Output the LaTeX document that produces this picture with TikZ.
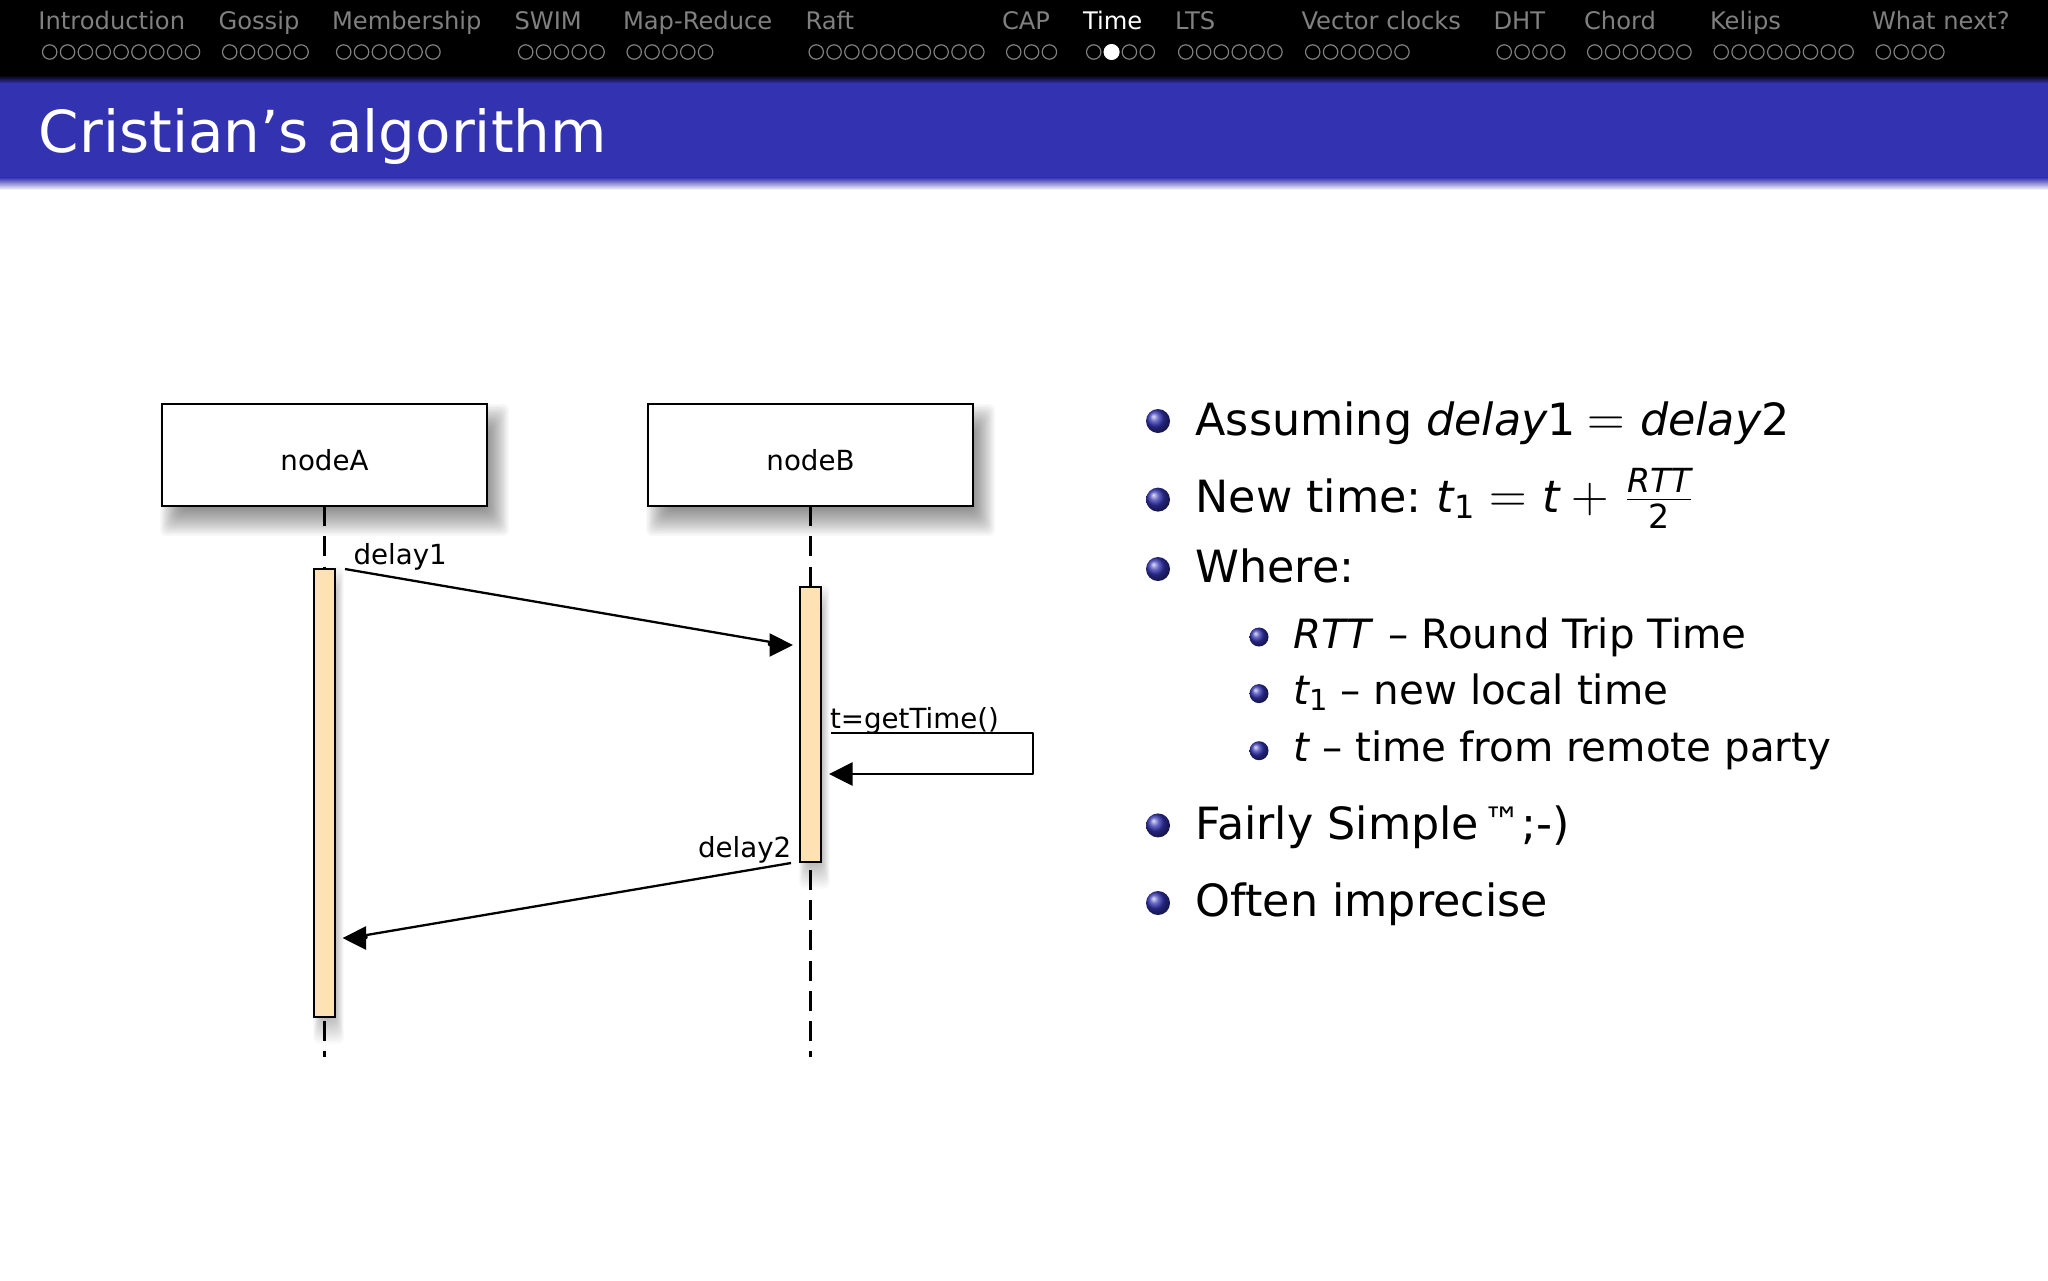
\RequirePackage{fix-cm}
\documentclass[tikz,border=0pt]{standalone}
\usepackage{fontspec}
\setmainfont{DejaVu Sans}
\usetikzlibrary{arrows.meta,positioning}
\definecolor{barblue}{rgb}{0.2,0.2,0.7}
\definecolor{navgray}{gray}{0.5}
\definecolor{barfill}{HTML}{FEE2B4}
\newcommand{\fsz}[1]{\fontsize{#1}{#1}\selectfont}
\newcommand{\softshadow}[9]{%
  \foreach \k in {1,...,20}{%
    \pgfmathsetmacro\ef{1-2*(\k-1)/19}
    \fill[black,fill opacity=#9,rounded corners=3pt]
      ({#1+#5-#7*\ef},{#2+#6-#8*\ef}) rectangle ({#3+#5+#7*\ef},{#4+#6+#8*\ef});
  }}
\newcommand{\fracrtt}{%
  \rlap{\raisebox{9.75pt}{\makebox[32pt]{\fsz{16.6}\itshape RTT}}}%
  \rlap{\raisebox{5.8pt}{\rule{32pt}{0.6pt}}}%
  \raisebox{-8pt}{\makebox[32pt]{\fsz{16.6}2}}}
\newcommand{\meq}[2]{\hspace{#1}{\fsz{26}$=$}\hspace{#2}}
\newcommand{\mplus}{\hspace{5.7pt}{\fsz{26}$+$}\hspace{9.2pt}}
\tikzset{
  txt/.style={anchor=base west,inner sep=0pt,outer sep=0pt,text=black},
  navtxt/.style={txt,font=\fsz{12.1},text=navgray},
  lvlone/.style={txt,font=\fsz{22.2}},
  lvltwo/.style={txt,font=\fsz{20.2}},
  msg/.style={txt,font=\fsz{13.85}},
  actor/.style={draw=black,line width=1.15pt,fill=white,anchor=north west,inner sep=0pt,outer sep=0pt,
    minimum width=162.5pt,minimum height=51pt,font=\fsz{13.85}},
  activation/.style={draw=black,line width=1.15pt,fill=barfill,anchor=north west,inner sep=0pt,outer sep=0pt,
    minimum width=10.5pt},
  life/.style={line width=1.05pt,dash pattern=on 10pt off 5.15pt},
  call/.style={line width=1.15pt,line join=round,-{Triangle[length=11.75pt,width=11.5pt]}},
  ball1/.style={circle,inner sep=0pt,minimum size=12pt,shading=ball,ball color=barblue},
  ball2/.style={circle,inner sep=0pt,minimum size=9.5pt,shading=ball,ball color=barblue},
  navdot/.style={draw=navgray,line width=0.6pt},
}
\begin{document}
\begin{tikzpicture}[x=0.5pt,y=-0.5pt]
\useasboundingbox (0,0) rectangle (2048,1280);
\fill[white] (0,0) rectangle (2048,1280);
% header bands
\fill[black] (0,0) rectangle (2048,75);
\shade[top color=black,bottom color=barblue] (0,75) rectangle (2048,83.5);
\fill[barblue] (0,83) rectangle (2048,178);
\shade[top color=barblue,bottom color=white] (0,177.5) rectangle (2048,190);
% navigation
\foreach \n/\t/\x in {1/Introduction/38.5,2/Gossip/218.5,3/Membership/332,4/SWIM/514.5,5/Map-Reduce/623,6/Raft/805.5,7/CAP/1002,9/LTS/1175,10/Vector clocks/1301.5,11/DHT/1493.5,12/Chord/1584,13/Kelips/1710,14/What next?/1872}{
  \node[navtxt] (nav\n) at (\x,29.5) {\t};
}
\node[navtxt,text=white] (nav8) at (1083,29.5) {Time};
\foreach \sx/\c in {42/9,222/5,336/6,518/5,626.5/5,808.5/10,1006/3,1178/6,1305/6,1496.5/4,1587/6,1713.5/8,1875.6/4,1086/4}{
  \foreach \i in {1,...,\c}{
    \draw[navdot] ({\sx+7.7+17.85*(\i-1)},52) circle (3.6pt);
  }
}
\fill[white] (1086+7.7+17.85,52) circle (4pt);
% title
\node[txt,text=white,font=\fsz{28.95}] (title) at (39,152) {Cristian’s algorithm};
% shadows
\softshadow{162}{404}{487}{506}{10}{15}{12}{15}{.027}
\softshadow{648}{404}{973}{506}{10}{15}{12}{15}{.027}
\softshadow{314}{569}{335}{1017}{4}{12}{5}{15}{.017}
\softshadow{800}{587}{821}{862}{4}{12}{5}{15}{.017}
% actors
\node[actor] (nodeA) at (162,404) {\raisebox{-7.5pt}[0pt][0pt]{nodeA}};
\node[actor] (nodeB) at (648,404) {\raisebox{-7.5pt}[0pt][0pt]{nodeB}};
\coordinate (endA) at (324.5,1057);
\coordinate (endB) at (810.5,1057);
\draw[life] (nodeA.south) -- (endA);
\draw[life] (nodeB.south) -- (endB);
\node[activation,minimum height=224pt] (barA) at (314,569) {};
\node[activation,minimum height=137.5pt] (barB) at (800,587) {};
% messages (arrowheads in the picture stay horizontal)
\coordinate (d1s) at (345,569);
\coordinate (d1b) at (769,641.7);
\coordinate (d1j) at (769,645);
\coordinate (d1e) at (793,645);
\coordinate (gs) at (831,733);
\coordinate (gr) at (1033,733);
\coordinate (gq) at (1033,774);
\coordinate (ge) at (829,774);
\coordinate (d2s) at (791,863);
\coordinate (d2b) at (366.5,935);
\coordinate (d2j) at (366.5,938);
\coordinate (d2e) at (342.5,938);
\draw[call] (d1s) -- (d1b) -- (d1j) -- (d1e);
\draw[call] (d2s) -- (d2b) -- (d2j) -- (d2e);
\draw[call] (gs) -- (gr) -- (gq) -- (ge);
\node[msg] (lb1) at (353.5,564) {delay1};
\node[msg] (lb2) at (830,728) {t=getTime()};
\node[msg] (lb3) at (698,857) {delay2};
% bullets
\node[ball1] (b1) at (1158,421) {};
\node[ball1] (b2) at (1158,499.6) {};
\node[ball1] (b3) at (1158,569) {};
\node[ball1] (b4) at (1158,825.4) {};
\node[ball1] (b5) at (1158,903) {};
\node[ball2] (c1) at (1259,637) {};
\node[ball2] (c2) at (1259,693.6) {};
\node[ball2] (c3) at (1259,750.7) {};
% texts
\node[lvlone] (t1) at (1195.5,435) {Assuming {\itshape delay}1\meq{5.8pt}{7.6pt}{\itshape delay}2};
\node[lvlone] (t2) at (1195.5,512) {New time:\hspace{7.5pt}{\itshape t}\raisebox{-3.2pt}{\fsz{16}1}\meq{7.6pt}{7.6pt}{\itshape t}\mplus\fracrtt};
\node[lvlone] (t3) at (1195.5,582.5) {Where:};
\node[lvltwo] (u1) at (1293.5,648.6) {{\itshape RTT}\hspace{2.5pt} – Round Trip Time};
\node[lvltwo] (u2) at (1293.5,704) {{\itshape t}\raisebox{-3pt}{\fsz{14.5}1} – new local time};
\node[lvltwo] (u3) at (1293.5,761.4) {{\itshape t} – time from remote party};
\node[lvlone] (t4) at (1195.5,839) {Fairly Simple\hspace{2pt}\raisebox{2.4pt}{\fsz{18.9}™}\hspace{0.5pt};-)};
\node[lvlone] (t5) at (1195.5,916.4) {Often imprecise};
\end{tikzpicture}
\end{document}
